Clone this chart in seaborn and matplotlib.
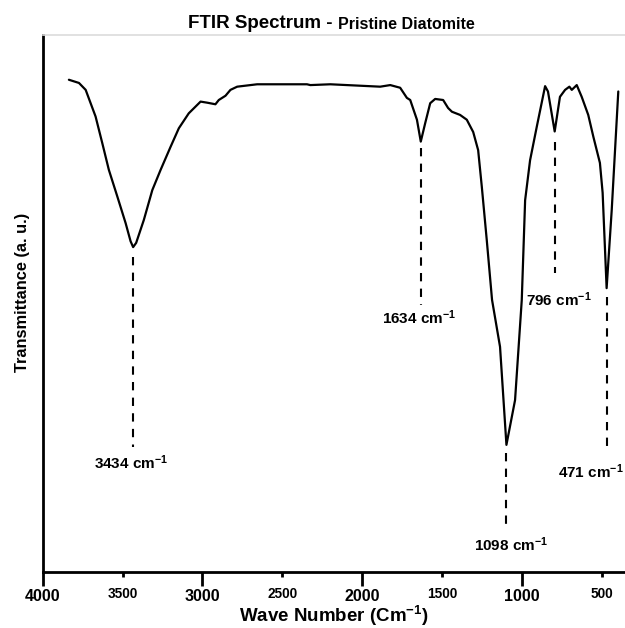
import matplotlib
matplotlib.use("Agg")
import matplotlib.pyplot as plt
import seaborn as sns
import pandas as pd

# FTIR spectrum of pristine diatomite (transmittance in arbitrary units)
wavenumber = [3836, 3773, 3731, 3700, 3669, 3627, 3586, 3533, 3481, 3450, 3434,
              3415, 3367, 3314, 3262, 3200, 3148, 3086, 3012, 2971, 2919, 2898,
              2856, 2825, 2783, 2658, 2346, 2325, 2200, 1888, 1825, 1763, 1721,
              1700, 1658, 1634, 1606, 1575, 1544, 1494, 1463, 1439, 1388, 1346,
              1306, 1275, 1252, 1221, 1188, 1138, 1098, 1044, 1002, 981, 950,
              908, 856, 838, 796, 763, 731, 704, 689, 658, 627, 586, 554, 513,
              496, 471, 439, 398]
transmittance = [91.6, 91.0, 89.7, 87.2, 84.7, 79.7, 74.7, 69.7, 64.7, 61.3, 60.2,
                 61.0, 65.3, 70.9, 74.7, 79.0, 82.5, 85.3, 87.5, 87.3, 87.0, 87.8,
                 88.6, 89.7, 90.3, 90.75, 90.75, 90.6, 90.75, 90.3, 90.6, 90.1, 88.2,
                 87.8, 84.1, 80.0, 83.5, 87.2, 88.0, 87.8, 86.3, 85.6, 85.0, 84.1,
                 81.8, 78.4, 71.5, 61.5, 50.3, 41.5, 23.1, 31.5, 50.3, 69.0, 76.5,
                 82.8, 90.4, 89.4, 81.9, 88.4, 89.7, 90.3, 89.7, 90.6, 88.4, 85.0,
                 80.9, 76.0, 70.4, 52.5, 67.2, 89.4]

# Assigned band positions
peaks = [3434, 1634, 1098, 796, 471]
peak_labels = ["3434 cm$^{-1}$", "1634 cm$^{-1}$", "1098 cm$^{-1}$",
               "796 cm$^{-1}$", "471 cm$^{-1}$"]

major_ticks = [4000, 3000, 2000, 1000]
major_labels = ["4000", "3000", "2000", "1000"]
minor_ticks = [3500, 2500, 1500, 500]
minor_labels = ["3500", "2500", "1500", "500"]

sns.set_style("white")
plt.rcParams["font.family"] = ["Liberation Sans", "DejaVu Sans"]
plt.rcParams["mathtext.fontset"] = "custom"
plt.rcParams["mathtext.rm"] = "Liberation Sans:bold"
plt.rcParams["mathtext.it"] = "Liberation Sans:bold"
plt.rcParams["mathtext.bf"] = "Liberation Sans:bold"
plt.rcParams["text.color"] = "black"
plt.rcParams["axes.labelcolor"] = "black"
plt.rcParams["xtick.color"] = "black"
plt.rcParams["xtick.labelcolor"] = "black"

df = pd.DataFrame({"Wave Number": wavenumber, "Transmittance": transmittance})

fig = plt.figure(figsize=(6.25, 6.28), dpi=100)
ax = fig.add_axes([0.0683, 0.0892, 0.9317, 0.8551])

sns.lineplot(data=df, x="Wave Number", y="Transmittance", sort=False,
             color="black", linewidth=1.6, ax=ax)

ax.set_xlim(4000, 356)
ax.set_ylim(-0.75, 100)

# Dashed drop lines and band labels: (dash top, dash bottom, label x, label y)
annot = [
    (58.3, 22.7, 3444, 19.7),
    (78.8, 49.3, 1644, 46.9),
    (21.6, 7.7, 1066, 4.3),
    (79.9, 55.3, 769, 50.3),
    (50.8, 21.8, 569, 18.0),
]
for wn, lab, (y0, y1, lx, ly) in zip(peaks, peak_labels, annot):
    ax.plot([wn, wn], [y0, y1], color="black", lw=1.5, linestyle=(0, (4, 3.5)))
    ax.text(lx, ly, lab, ha="center", va="center", fontsize=11,
            fontweight="bold", color="black")

ax.set_xticks(major_ticks)
ax.set_xticklabels(major_labels, fontsize=11.5, fontweight="bold")
ax.set_xticks(minor_ticks, minor=True)
ax.set_xticklabels(minor_labels, minor=True, fontsize=9.8, fontweight="bold")
ax.tick_params(axis="x", which="major", direction="out", length=10, width=2,
               pad=2, color="black", bottom=True)
ax.tick_params(axis="x", which="minor", direction="out", length=3.6, width=2,
               pad=7, color="black", bottom=True)
ax.set_yticks([])

for side in ["left", "bottom"]:
    ax.spines[side].set_color("black")
    ax.spines[side].set_linewidth(2)
ax.spines["top"].set_color("#dcdcdc")
ax.spines["top"].set_linewidth(1.2)
ax.spines["right"].set_visible(False)

ax.set_xlabel("Wave Number (Cm$^{-1}$)", fontsize=13.5, fontweight="bold",
              labelpad=0)
ax.set_ylabel("Transmittance (a. u.)", fontsize=11.8, fontweight="bold")
ax.yaxis.set_label_coords(-0.021, 0.52)

# Two-part title
t1 = fig.text(188 / 625, 1 - 28 / 628, "FTIR Spectrum - ", fontsize=13.5,
              fontweight="bold", ha="left", va="baseline")
ax.annotate("Pristine Diatomite", xy=(1, 0), xycoords=t1, fontsize=11.5,
            fontweight="bold", ha="left", va="bottom")

fig.savefig("out.png", dpi=100)
